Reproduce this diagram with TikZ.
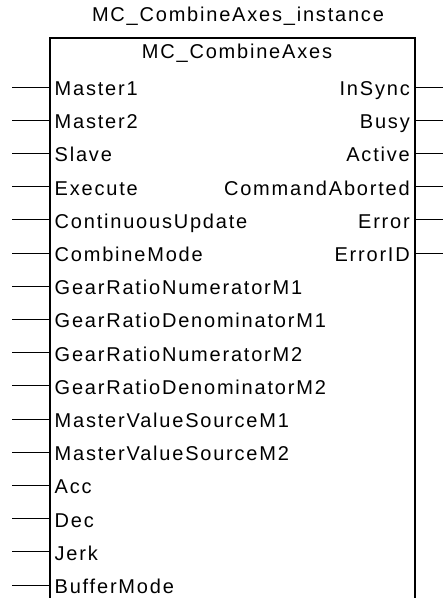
\documentclass[tikz,border=0pt]{standalone}
\usepackage{fontspec}
\setmainfont{Liberation Sans}[LetterSpace=9]
\begin{document}
\begin{tikzpicture}[x=1pt, y=-1pt, font=\fontsize{20}{23}\selectfont]
\useasboundingbox (0,0) rectangle (443,598);
\node (inst) at (238,16) {MC\_CombineAxes\_instance};
\draw[line width=1.1pt] (50,598) -- (50,38) -- (415,38) -- (415,598);
\node (fb) at (237,53) {MC\_CombineAxes};
% inputs
\foreach \name [count=\i from 0] in {Master1, Master2, Slave, Execute,
    ContinuousUpdate, CombineMode, GearRatioNumeratorM1,
    GearRatioDenominatorM1, GearRatioNumeratorM2, GearRatioDenominatorM2,
    MasterValueSourceM1, MasterValueSourceM2, Acc, Dec, Jerk, BufferMode} {
  \coordinate (in\i) at (50,87+33.2*\i);
  \coordinate (inend\i) at (12,87+33.2*\i);
  \node[anchor=base west, inner sep=0pt] (inlbl\i) at (54.5,95.5+33.2*\i) {\name};
  \draw[line width=1pt] (inend\i) -- (in\i);
}
% outputs
\foreach \name [count=\i from 0] in {InSync, Busy, Active, CommandAborted,
    Error, ErrorID} {
  \coordinate (out\i) at (415,87+33.2*\i);
  \coordinate (outend\i) at (443,87+33.2*\i);
  \node[anchor=base east, inner sep=0pt] (outlbl\i) at (410,95.5+33.2*\i) {\name};
  \draw[line width=1pt] (out\i) -- (outend\i);
}
\end{tikzpicture}
\end{document}
